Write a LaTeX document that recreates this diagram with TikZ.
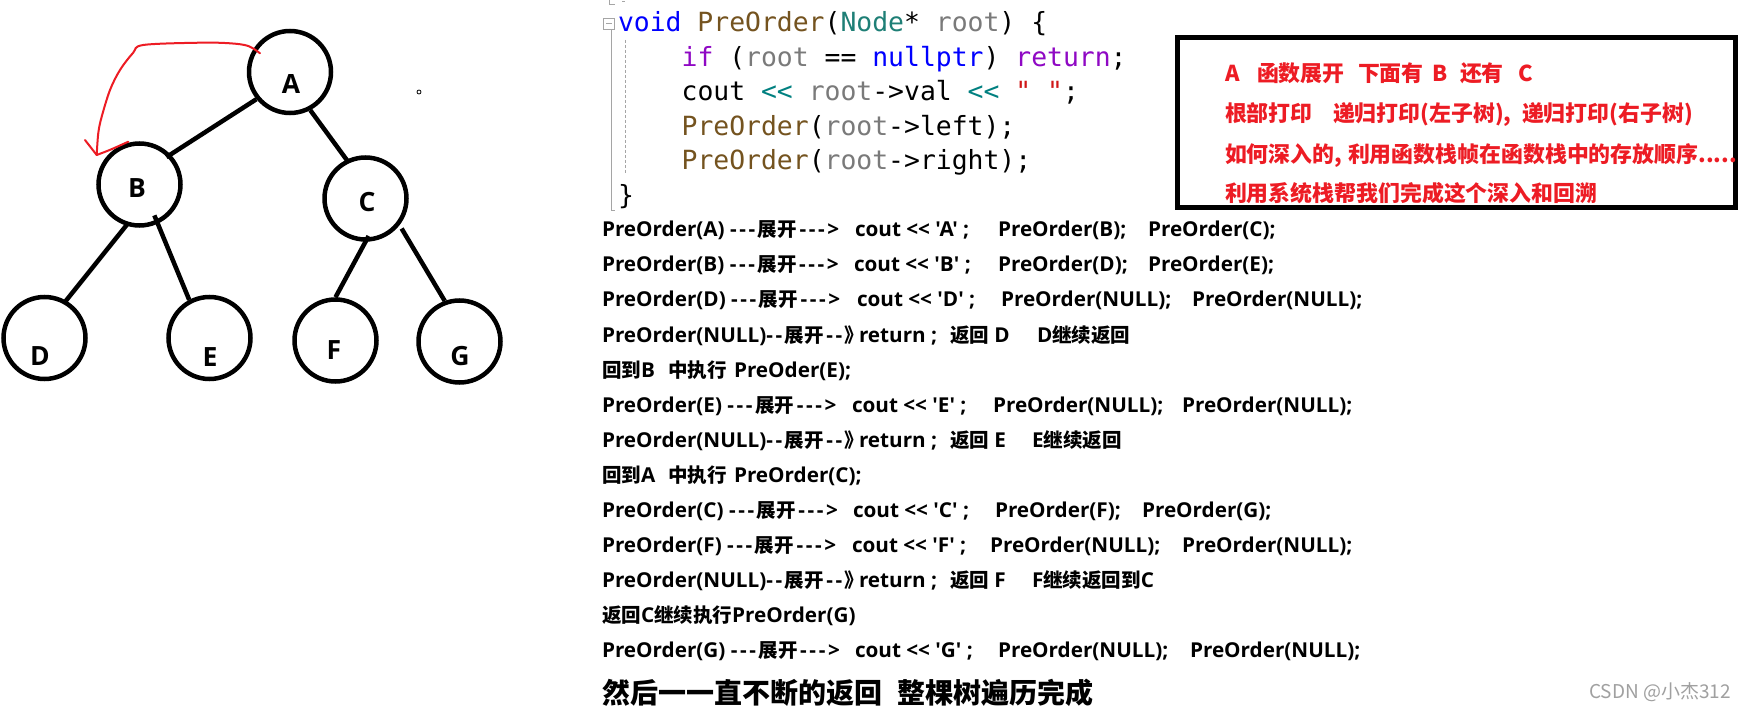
\documentclass[tikz,border=0pt]{standalone}
\usepackage{fontspec}
\newfontfamily\opb{Open Sans}[FakeStretch=1.01]
\newfontfamily\lbf{Open Sans}
\newfontfamily\cjkf{Noto Sans CJK SC}
\newfontfamily\monof{DejaVu Sans Mono}
\usetikzlibrary{calc}
\definecolor{kwb}{HTML}{0000FF}
\definecolor{fnb}{HTML}{74531F}
\definecolor{tyc}{HTML}{1E7F76}
\definecolor{pag}{HTML}{7A7A7A}
\definecolor{ctl}{HTML}{8F08C4}
\definecolor{opc}{HTML}{008080}
\definecolor{strc}{HTML}{D01818}
\definecolor{boxred}{HTML}{ED1C24}
\definecolor{outl}{HTML}{A5A5A5}
\definecolor{wm}{HTML}{A0A0A0}
\newcommand\cj[1]{{\cjkf\fontsize{19.5}{23}\selectfont #1}}
\newcommand\hy{-\kern2.6pt}
\newcommand\exparrow{\hy\hy\hy\cj{展开}\kern2.6pt\hy\hy\hy>}
\newcommand\nullarrow{\hy\hy\cj{展开}\kern2.6pt\hy\hy\cj{》}}
\tikzset{
  tn/.style={circle, draw, line width=4.5pt, minimum size=82pt, inner sep=0pt},
  lb/.style={inner sep=0pt, font=\lbf\bfseries\fontsize{26.5}{30}\selectfont},
  edge/.style={line width=4.5pt},
  redpen/.style={draw=boxred, line width=2pt, line cap=round, line join=round},
  tx/.style={anchor=base west, inner sep=0pt, outer sep=0pt, font=\opb\bfseries\fontsize{20.5}{24}\selectfont},
  bigtx/.style={anchor=base west, inner sep=0pt, outer sep=0pt, font=\cjkf\bfseries\fontsize{28}{32}\selectfont},
  rt/.style={anchor=base west, inner sep=0pt, outer sep=0pt, text=boxred, font=\cjkf\bfseries\fontsize{21.9}{26}\selectfont},
  cd/.style={anchor=base west, inner sep=0pt, outer sep=0pt, font=\monof\fontsize{26.4}{30}\selectfont},
  gl/.style={draw=outl, line width=1pt}
}
\begin{document}
\begin{tikzpicture}[x=1pt,y=-1pt]
\useasboundingbox[fill=white] (0,0) rectangle (1751,711);
% ---------- tree ----------
\node[tn] (A) at (290,72) {};
\node[tn] (B) at (139.5,184.5) {};
\node[tn] (C) at (365.5,198.5) {};
\node[tn] (D) at (44.5,338) {};
\node[tn] (E) at (209.5,338) {};
\node[tn] (F) at (335.5,340.5) {};
\node[tn] (G) at (459.5,341.5) {};
\node[lb] (Al) at (291,84) {A};
\node[lb] (Bl) at (137,188) {B};
\node[lb] (Cl) at (367,202) {C};
\node[lb] (Dl) at (40,356) {D};
\node[lb] (El) at (210,357) {E};
\node[lb] (Fl) at (334,350) {F};
\node[lb] (Gl) at (460,356) {G};
\draw[edge, shorten >=-5pt] (A.219) -- (B.44);
\draw[edge, shorten >=-3.5pt] (A.298) -- (C.116);
\draw[edge, shorten <=-1pt, shorten >=-1pt] (B.252) -- (D.60);
\draw[edge, shorten <=-9pt] (B.295) -- (E.118);
\draw[edge, shorten <=-6.5pt] (C.270) -- (F.90);
\draw[edge, shorten <=4pt] (C.322) -- (G.110);
% red freehand arrow
\draw[redpen] plot[smooth, tension=0.55] coordinates {(260,53.3) (248.3,46) (230,43.3) (200,42.7) (143.3,45) (133,53) (120,70) (110,90) (101.7,116.7) (98.3,133) (96.7,155)};
\draw[redpen] (85,140) -- (96.7,155) .. controls (110,150) .. (128.3,141.7);
% small mark
\draw[line width=0.8pt] (419,92) circle (2pt);
% ---------- code ----------
\draw[gl] (609.5,0) -- (609.5,5) -- (615,5);
\draw[gl] (622,2) -- (625,2);
\draw[gl] (603.5,18.5) rectangle (614,29.5);
\draw[gl] (606,24) -- (611.5,24);
\draw[gl] (611.7,29.5) -- (611.7,211) -- (615,211);
\draw[gl, dash pattern=on 3pt off 2pt] (625.7,40) -- (625.7,173);
\node[cd] (c1) at (618,32) {\textcolor{kwb}{void} \textcolor{fnb}{PreOrder}(\textcolor{tyc}{Node}* \textcolor{pag}{root}) \{};
\node[cd] (c2) at (681.6,66.5) {\textcolor{ctl}{if} (\textcolor{pag}{root} == \textcolor{kwb}{nullptr}) \textcolor{ctl}{return};};
\node[cd] (c3) at (681.6,101) {cout \textcolor{opc}{<<} \textcolor{pag}{root}->val \textcolor{opc}{<<} \textcolor{strc}{" "};};
\node[cd] (c4) at (681.6,135.5) {\textcolor{fnb}{PreOrder}(\textcolor{pag}{root}->left);};
\node[cd] (c5) at (681.6,170) {\textcolor{fnb}{PreOrder}(\textcolor{pag}{root}->right);};
\node[cd] (c6) at (618,204.5) {\}};
% ---------- red box ----------
\draw[line width=5pt] (1177.5,37.5) rectangle (1735.5,207.5);
\node[rt] (r1a) at (1225,82) {A};
\node[rt] (r1b) at (1257,82) {函数展开};
\node[rt] (r1c) at (1358,82) {下面有};
\node[rt] (r1d) at (1432,82) {B};
\node[rt] (r1e) at (1460,82) {还有};
\node[rt] (r1f) at (1518,82) {C};
\node[rt] (r2a) at (1225,122) {根部打印};
\node[rt] (r2b) at (1333,122) {递归打印(左子树),};
\node[rt] (r2c) at (1522,122) {递归打印(右子树)};
\node[rt] (r3a) at (1225,163) {如何深入的,};
\node[rt] (r3b) at (1348,163) {利用函数栈帧在函数栈中的存放顺序.....};
\node[rt] (r4a) at (1225,202) {利用系统栈帮我们完成这个深入和回溯};
% ---------- trace lines ----------
\node[tx] (t1a) at (602,237) {PreOrder(A) \exparrow};
\node[tx] (t1b) at (855,237) {cout << 'A' ;};
\node[tx] (t1c) at (998,237) {PreOrder(B);};
\node[tx] (t1d) at (1148,237) {PreOrder(C);};
\node[tx] (t2a) at (602,272) {PreOrder(B) \exparrow};
\node[tx] (t2b) at (854,272) {cout << 'B' ;};
\node[tx] (t2c) at (998,272) {PreOrder(D);};
\node[tx] (t2d) at (1148,272) {PreOrder(E);};
\node[tx] (t3a) at (602,307) {PreOrder(D) \exparrow};
\node[tx] (t3b) at (857,307) {cout << 'D' ;};
\node[tx] (t3c) at (1001,307) {PreOrder(NULL);};
\node[tx] (t3d) at (1192,307) {PreOrder(NULL);};
\node[tx] (t4a) at (602,342) {PreOrder(NULL)\nullarrow};
\node[tx] (t4b) at (859,342) {return ;};
\node[tx] (t4c) at (950,342) {\cj{返回} D};
\node[tx] (t4d) at (1037,342) {D\cj{继续返回}};
\node[tx] (t5a) at (602,377) {\cj{回到}B};
\node[tx] (t5b) at (668,377) {\cj{中执行}};
\node[tx] (t5c) at (734,377) {PreOder(E);};
\node[tx] (t6a) at (602,412) {PreOrder(E) \exparrow};
\node[tx] (t6b) at (852,412) {cout << 'E' ;};
\node[tx] (t6c) at (993,412) {PreOrder(NULL);};
\node[tx] (t6d) at (1182,412) {PreOrder(NULL);};
\node[tx] (t7a) at (602,447) {PreOrder(NULL)\nullarrow};
\node[tx] (t7b) at (859,447) {return ;};
\node[tx] (t7c) at (950,447) {\cj{返回} E};
\node[tx] (t7d) at (1032,447) {E\cj{继续返回}};
\node[tx] (t8a) at (602,482) {\cj{回到}A};
\node[tx] (t8b) at (668,482) {\cj{中执行}};
\node[tx] (t8c) at (734,482) {PreOrder(C);};
\node[tx] (t9a) at (602,517) {PreOrder(C) \exparrow};
\node[tx] (t9b) at (853,517) {cout << 'C' ;};
\node[tx] (t9c) at (995,517) {PreOrder(F);};
\node[tx] (t9d) at (1142,517) {PreOrder(G);};
\node[tx] (t10a) at (602,552) {PreOrder(F) \exparrow};
\node[tx] (t10b) at (852,552) {cout << 'F' ;};
\node[tx] (t10c) at (990,552) {PreOrder(NULL);};
\node[tx] (t10d) at (1182,552) {PreOrder(NULL);};
\node[tx] (t11a) at (602,587) {PreOrder(NULL)\nullarrow};
\node[tx] (t11b) at (859,587) {return ;};
\node[tx] (t11c) at (950,587) {\cj{返回} F};
\node[tx] (t11d) at (1032,587) {F\cj{继续返回到}C};
\node[tx] (t12a) at (602,622) {\cj{返回}C\cj{继续执行}PreOrder(G)};
\node[tx] (t13a) at (602,657) {PreOrder(G) \exparrow};
\node[tx] (t13b) at (855,657) {cout << 'G' ;};
\node[tx] (t13c) at (998,657) {PreOrder(NULL);};
\node[tx] (t13d) at (1190,657) {PreOrder(NULL);};
\node[bigtx] (t14a) at (602,703) {然后一一直不断的返回};
\node[bigtx] (t14b) at (897,703) {整棵树遍历完成};
% watermark
\node[anchor=base west, inner sep=0pt, text=wm, font=\cjkf\fontsize{19}{22}\selectfont] (wmk) at (1589,698.5) {CSDN @小杰312};
\end{tikzpicture}
\end{document}
